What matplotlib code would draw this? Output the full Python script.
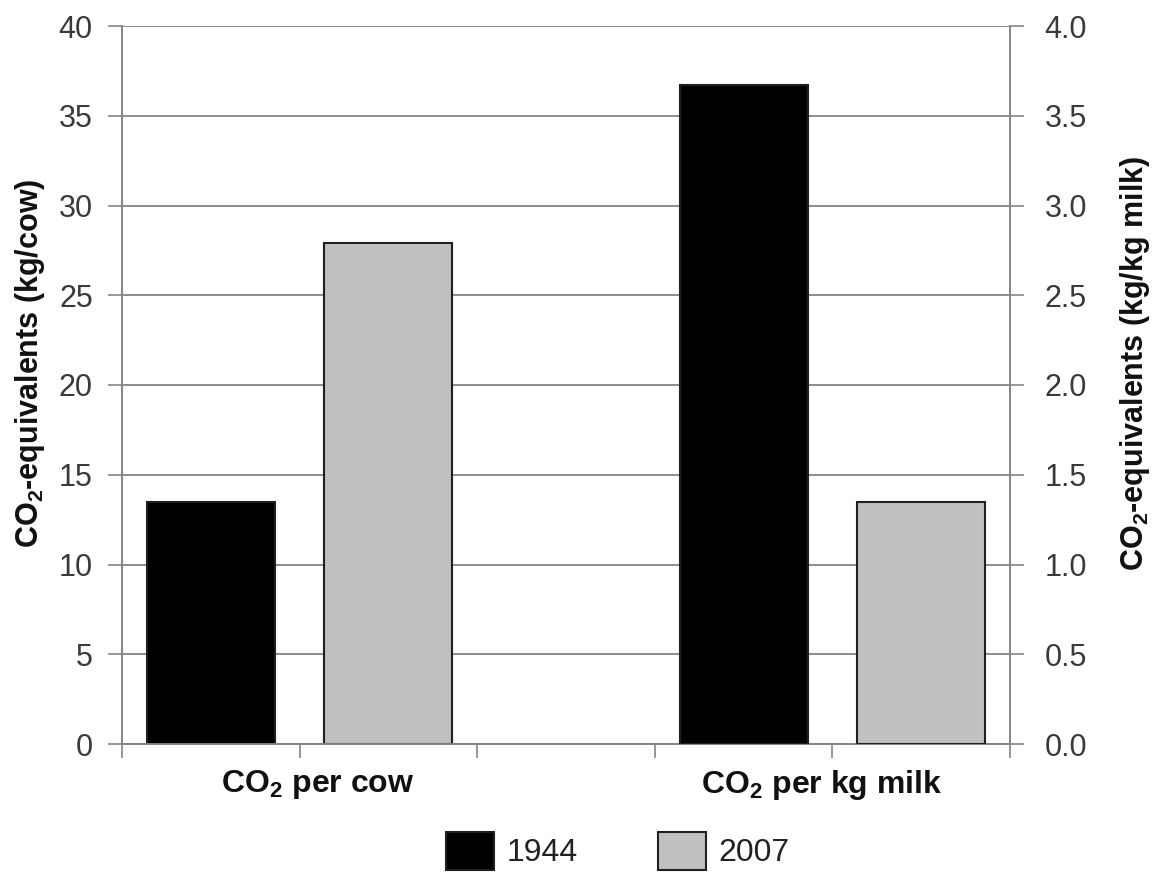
import numpy as np
import matplotlib
matplotlib.use("Agg")
import matplotlib.pyplot as plt
from matplotlib.patches import Patch

plt.rcParams['font.family'] = ['Liberation Sans', 'DejaVu Sans']
plt.rcParams['mathtext.default'] = 'regular'

# values
categories = ["CO$_2$ per cow", "CO$_2$ per kg milk"]
years = ["1944", "2007"]
per_cow = [13.5, 27.9]       # kg/cow, left axis
per_kg_milk = [3.67, 1.35]   # kg/kg milk, right axis
colors = ["#000000", "#c0c0c0"]

grey = "#858585"

fig = plt.figure(figsize=(11.61, 8.77), dpi=100)
ax = fig.add_axes([122 / 1161, 1 - 744 / 877, (1010 - 122) / 1161, (744 - 26) / 877])
ax2 = ax.twinx()

# five slots on the x axis, middle one left empty
slots_cow = np.array([0.5, 1.5])
slots_milk = np.array([3.5, 4.5])
w = 0.72

ax.bar(slots_cow, per_cow, width=w, color=colors, edgecolor="#202020", linewidth=1.5, zorder=3)
ax2.bar(slots_milk, per_kg_milk, width=w, color=colors, edgecolor="#202020", linewidth=1.5, zorder=3)

ax.set_xlim(0, 5)
ax.set_ylim(0, 40)
ax2.set_ylim(0, 4)
ax.set_yticks(np.arange(0, 41, 5))
ax2.set_yticks(np.arange(0, 4.01, 0.5))
ax2.set_yticklabels([f"{v:.1f}" for v in np.arange(0, 4.01, 0.5)])

ax.set_xticks(np.arange(0, 6))
ax.set_xticklabels([])
ax.tick_params(axis="x", length=10, width=1.2, color=grey, direction="out")

# category names under the pairs of bars
for xpos, lab in zip([1.1, 3.94], categories):
    ax.text(xpos, -0.057, lab, transform=ax.get_xaxis_transform(), ha="center", va="center",
            fontsize=23, fontweight="bold", color="#111111")

ax.yaxis.grid(True, color=grey, linewidth=1.3, zorder=0)
ax.set_axisbelow(True)

for a in (ax, ax2):
    a.spines["top"].set_visible(False)
    for s in ("left", "right", "bottom"):
        a.spines[s].set_color(grey)
        a.spines[s].set_linewidth(1.3)
    a.tick_params(axis="y", length=10, width=1.2, color=grey, labelsize=22,
                  labelcolor="#3a3a3a")
ax.tick_params(axis="y", pad=11)
ax2.tick_params(axis="y", pad=15)

ax.set_ylabel("CO$_2$-equivalents (kg/cow)", fontsize=22, fontweight="bold", color="#111111")
ax.yaxis.set_label_coords(-0.085, 0.53)
ax2.set_ylabel("CO$_2$-equivalents (kg/kg milk)", fontsize=22, fontweight="bold", color="#111111",
               rotation=90)
ax2.yaxis.set_label_coords(1.122, 0.53)

handles = [Patch(facecolor=c, edgecolor="#202020", linewidth=1.5) for c in colors]
fig.legend(handles, years, loc="center", bbox_to_anchor=(0.532, 0.03), ncol=2,
           frameon=False, fontsize=23, handlelength=1.5, handleheight=1.45,
           columnspacing=2.5, handletextpad=0.4, labelcolor="#222222")

fig.savefig("out.png", dpi=100)
